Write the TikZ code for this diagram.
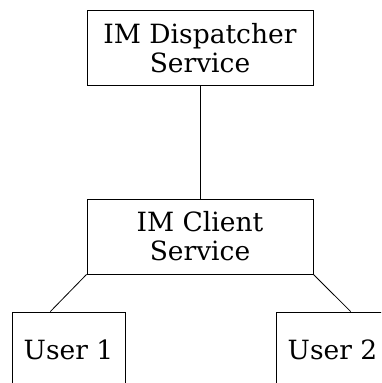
\documentclass[tikz,border=0pt]{standalone}
\usepackage{fontspec}
\setmainfont{DejaVu Serif}
\usetikzlibrary{calc}

\begin{document}
\begin{tikzpicture}[x=1pt, y=1pt, line width=0.8pt]
  \tikzset{service/.style={draw, align=center, minimum width=226pt, minimum height=75pt,
      inner sep=0pt, font=\fontsize{26.5}{29}\selectfont}};
  \tikzset{user/.style={draw, minimum width=113pt, minimum height=75pt,
      inner sep=0pt, font=\fontsize{26.5}{29}\selectfont}};
  \useasboundingbox (0, 0) rectangle (381, 383);
  \clip (0, 0) rectangle (381, 383);
  \node[service] (dispatcher) at (200, 335) {IM Dispatcher\\Service};
  \node[service] (client) at (200, 146.5) {IM Client\\Service};
  \node[user] (user1) at (68.5, 33.5) {User 1};
  \node[user] (user2) at (332.5, 33.5) {User 2};
  \draw (dispatcher.south) -- (client.north);
  \draw (client.south west) -- ($(user1.north west)!0.34!(user1.north east)$);
  \draw (client.south east) -- ($(user2.north west)!0.66!(user2.north east)$);
\end{tikzpicture}
\end{document}
